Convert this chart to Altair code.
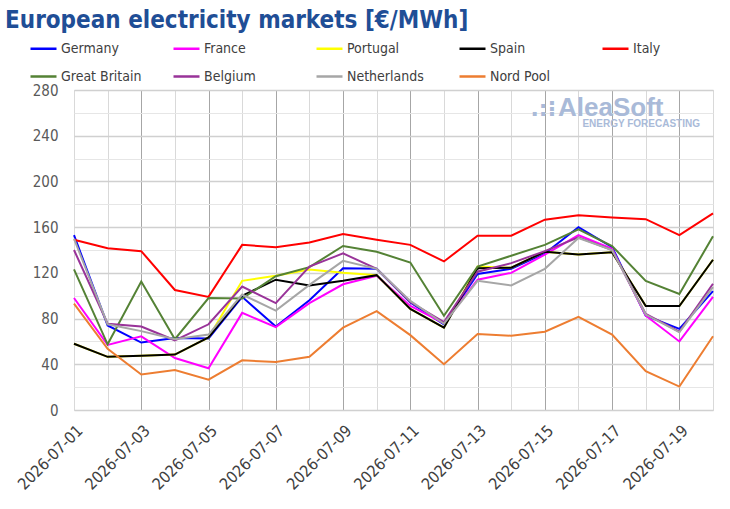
import altair as alt
import pandas as pd

# Daily prices, €/MWh
dates = [f"2026-07-{d:02d}" for d in range(1, 21)]

germany = [153, 74, 59, 63, 62.5, 99, 73, 96, 124, 123.5, 94, 75, 119, 123.5, 137, 160, 142.5, 82.5, 71, 104]
france = [98, 57, 64.5, 45.5, 36.5, 85, 72.5, 93.5, 110, 117.5, 91, 76, 114, 120, 136, 153, 141, 82.5, 60, 99]
portugal = [58, 46.5, 47.5, 48.5, 63.5, 113, 117.5, 123, 120, 118, 88.5, 72, 125.5, 124.5, 138.5, 136, 138, 91, 91, 131.5]
spain = [58, 46.5, 47.5, 48.5, 63.5, 100, 114, 109, 113, 118, 88.5, 72, 124, 124.5, 138.5, 136, 138, 91, 91, 131.5]
italy = [149, 141.5, 139, 105, 99, 144.5, 142.5, 146.5, 154, 149, 144.5, 130, 152.5, 152.5, 166.5, 170.5, 168.5, 167, 153, 172]
great_britain = [123, 57.5, 112.5, 62, 98, 97.5, 117, 125, 143.5, 138.5, 129, 82.5, 125.5, 135, 144.5, 158, 143.5, 113, 101.5, 152]
belgium = [140, 75.5, 73, 61, 75, 108, 93.5, 125.5, 137, 123.5, 94.5, 77, 121, 128.5, 139, 151, 140, 84, 68.5, 110.5]
netherlands = [150, 75, 69, 62, 66, 101, 87, 109.5, 130.5, 123.5, 95.5, 75.5, 113, 109, 123.5, 150.5, 140, 83.5, 68, 107.5]
nord_pool = [93, 53.5, 31, 35, 26.5, 43.5, 42, 46.5, 72, 86.5, 65.5, 40, 66.5, 65, 68.5, 81.5, 66, 34, 20.5, 64.5]

markets = ["Germany", "France", "Portugal", "Spain", "Italy",
           "Great Britain", "Belgium", "Netherlands", "Nord Pool"]
series = [germany, france, portugal, spain, italy,
          great_britain, belgium, netherlands, nord_pool]
colors = ["#0000FF", "#FF00FF", "#FFFF00", "#000000", "#FF0000",
          "#548235", "#993399", "#A6A6A6", "#ED7D31"]

rows = []
for name, vals in zip(markets, series):
    for d, v in zip(dates, vals):
        rows.append({"market": name, "date": d, "price": v})
df = pd.DataFrame(rows)

FONT = "DejaVu Sans Condensed"
odd_day = "parseInt(substring(datum.value, 8, 10)) % 2 == 1"

lines = alt.Chart(df).mark_line(strokeWidth=2).encode(
    x=alt.X(
        "date:O",
        sort=dates,
        scale=alt.Scale(type="point", padding=0),
        axis=alt.Axis(
            title=None,
            labelAngle=-45,
            labelExpr=f"{odd_day} ? datum.value : ''",
            labelFont=FONT,
            labelFontSize=16,
            labelColor="#404040",
            labelPadding=12,
            labelOverlap=False,
            ticks=False,
            domain=False,
            grid=True,
            gridColor={
                "condition": {"test": f"{odd_day} && datum.value != '2026-07-01'",
                              "value": "#A6A6A6"},
                "value": "#D9D9D9",
            },
            gridWidth=1,
        ),
    ),
    y=alt.Y(
        "price:Q",
        scale=alt.Scale(domain=[0, 280], nice=False),
        axis=alt.Axis(
            title=None,
            values=list(range(0, 281, 20)),
            labelExpr="datum.value % 40 == 0 ? datum.label : ''",
            labelFont=FONT,
            labelFontSize=15,
            labelColor="#595959",
            labelPadding=16,
            ticks=False,
            domain=False,
            grid=True,
            gridColor={
                "condition": {"test": "datum.value % 40 == 0", "value": "#D0D0D0"},
                "value": "#E6E6E6",
            },
            gridWidth={
                "condition": {"test": "datum.value % 40 == 0", "value": 1.5},
                "value": 1,
            },
        ),
    ),
    color=alt.Color(
        "market:N",
        scale=alt.Scale(domain=markets, range=colors),
        legend=alt.Legend(
            title=None,
            orient="none",
            legendX=-45,
            legendY=-56,
            direction="horizontal",
            columns=5,
            gridAlign="all",
            columnPadding=26,
            rowPadding=6,
            symbolType="stroke",
            symbolSize=676,
            symbolStrokeWidth=2.5,
            labelOffset=3,
            labelFont=FONT,
            labelFontSize=14,
            labelColor="#404040",
            labelLimit=200,
        ),
    ),
    order=alt.Order("date:O"),
)

mark_data = alt.Data(values=[{"k": 1}])
WM = "#A9BAD8"

logo_dots = alt.Chart(mark_data).mark_text(
    text=".:⁝", font="DejaVu Sans", fontWeight="bold", fontSize=22,
    color=WM, align="right", baseline="alphabetic",
).encode(x=alt.value(482), y=alt.value(26))

logo_name = alt.Chart(mark_data).mark_text(
    text="AleaSoft", font="Liberation Sans", fontWeight="bold", fontSize=26,
    color=WM, align="left", baseline="alphabetic",
).encode(x=alt.value(484), y=alt.value(26))

logo_tag = alt.Chart(mark_data).mark_text(
    text="ENERGY FORECASTING", font="Liberation Sans", fontWeight="bold", fontSize=10,
    color=WM, align="right", baseline="alphabetic",
).encode(x=alt.value(626), y=alt.value(37))

chart = alt.layer(lines, logo_dots, logo_name, logo_tag).properties(
    width=639,
    height=320,
    autosize=alt.AutoSizeParams(type="none"),
    padding={"left": 74, "top": 90, "right": 17, "bottom": 99},
    title=alt.TitleParams(
        "European electricity markets [€/MWh]",
        anchor="start",
        frame="group",
        font=FONT,
        fontSize=24,
        fontWeight="bold",
        color="#1F4E96",
        dx=-69,
        offset=1,
    ),
).configure_view(strokeWidth=0).configure(background="white")

chart.save("out.html", embed_options={"renderer": "svg", "actions": False})
